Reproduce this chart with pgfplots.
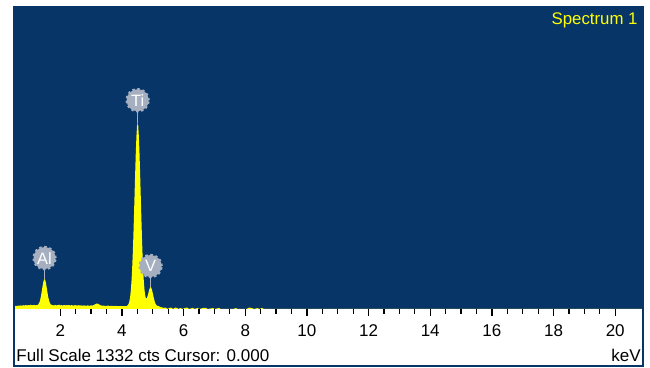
\documentclass[border=0pt]{standalone}
\usepackage{fontspec}
\setmainfont{Liberation Sans}
\usepackage{pgfplots}
\pgfplotsset{compat=1.18}

\definecolor{specblue}{RGB}{8,53,104}
\definecolor{specyellow}{RGB}{255,255,0}
\definecolor{labgrey}{RGB}{166,175,192}

% EDS spectrum: energy (keV) vs counts
\pgfplotstableread{
x y
0.50 12
0.52 13
0.56 14
0.60 13
0.64 15
0.68 14
0.72 16
0.76 14
0.80 17
0.84 15
0.88 18
0.92 15
0.96 17
1.00 16
1.04 19
1.08 16
1.12 17
1.16 18
1.20 16
1.23 17
1.25 17.3
1.27 18.6
1.29 21.1
1.31 25.2
1.33 31.7
1.35 41.1
1.37 53.7
1.39 69.1
1.41 86.4
1.43 103.6
1.45 118.3
1.47 128.4
1.49 132
1.51 128.4
1.53 118.3
1.55 103.6
1.57 86.4
1.59 69.1
1.61 53.7
1.63 41.1
1.65 31.7
1.67 25.2
1.69 21.1
1.71 18.6
1.73 17.3
1.76 17
1.80 15
1.84 18
1.88 16
1.92 17
1.96 19
2.00 16
2.04 17
2.08 15
2.12 18
2.16 16
2.20 17
2.24 16
2.28 18
2.32 15
2.36 17
2.40 16
2.44 15
2.48 17
2.52 16
2.56 15
2.60 17
2.64 15
2.68 16
2.72 14
2.76 16
2.80 15
2.84 14
2.88 16
2.92 15
2.96 14
3.00 16
3.04 15
3.08 17
3.12 20
3.16 23
3.20 24
3.24 22
3.28 18
3.32 16
3.36 14
3.40 15
3.44 14
3.48 13
3.52 14
3.56 15
3.60 13
3.64 14
3.68 13
3.72 14
3.76 12
3.80 14
3.84 13
3.88 12
3.92 13
3.96 12
4.00 13
4.04 12
4.08 13
4.12 12
4.15 13
4.17 14.5
4.19 16.8
4.21 21
4.23 28
4.25 39.6
4.27 57.4
4.29 84
4.31 122
4.33 172
4.35 237
4.37 316
4.39 406
4.41 503
4.43 600
4.45 689
4.47 760
4.49 806
4.51 822
4.53 806
4.55 760
4.57 689
4.59 600
4.61 503
4.63 406
4.65 316
4.67 237
4.69 173
4.71 124
4.73 88
4.75 64
4.77 51
4.79 46
4.81 49
4.83 56
4.85 66
4.87 77
4.89 87
4.91 94
4.93 97
4.95 94
4.97 87
4.99 76
5.01 64
5.03 51
5.05 40
5.07 30
5.09 23.5
5.11 19
5.13 15.7
5.15 14
5.19 12.5
5.23 10
5.27 8
5.30 7
5.36 5
5.42 6
5.48 0
5.54 5
5.60 6
5.66 0
5.72 6
5.78 5
5.84 0
5.90 5
5.96 0
6.05 5
6.12 6
6.18 0
6.30 5
6.36 0
6.45 4
6.52 0
6.65 5
6.72 5
6.78 0
6.95 4
7.02 0
7.15 5
7.20 0
7.60 0
7.70 4
7.75 0
8.05 0
8.12 6
8.20 5
8.28 0
8.40 4
8.46 0
8.55 5
8.60 0
20.9 0
}\spectrum

\tikzset{
  peaklabel/.style={circle, fill=labgrey, inner sep=0pt, minimum size=11pt,
    text=white, font=\fontsize{8.2}{8.2}\selectfont,
    preaction={draw=labgrey, line width=1.2pt, dash pattern=on 1.2pt off 1.3pt}},
  stem/.style={labgrey, line width=0.6pt}
}

\begin{document}
\begin{tikzpicture}
\useasboundingbox (0,0) rectangle (325pt,184pt);
\begin{axis}[
  at={(7pt,29.5pt)}, anchor=south west,
  scale only axis, width=314.5pt, height=151pt,
  xmin=0.5, xmax=20.9, ymin=0, ymax=1332,
  axis background/.style={fill=specblue},
  axis line style={draw=none},
  ytick=\empty,
  xtick={2,4,...,20},
  minor x tick num=3,
  xtick pos=left,
  tick align=outside,
  major tick length=3.5pt, minor tick length=2.5pt,
  tick style={black, line width=0.6pt},
  xticklabel style={font=\fontsize{8.5}{10}\selectfont, yshift=-1pt},
  /pgf/number format/assume math mode=true,
]
\addplot[fill=specyellow, draw=none] table[x=x, y=y] {\spectrum} \closedcycle;

% element markers
\draw[stem] (axis cs:1.49,132) -- ([yshift=6pt]axis cs:1.49,132);
\node[peaklabel] at ([yshift=10.5pt]axis cs:1.49,132) {Al};
\draw[stem] (axis cs:4.51,822) -- ([yshift=6pt]axis cs:4.51,822);
\node[peaklabel] at ([yshift=11.2pt]axis cs:4.51,822) {Ti};
\draw[stem] (axis cs:4.93,97) -- ([yshift=6pt]axis cs:4.93,97);
\node[peaklabel] at ([yshift=10.5pt]axis cs:4.93,97) {V};
\end{axis}

\draw[specblue, line width=0.8pt] (7pt,1pt) rectangle (321.5pt,180.5pt);
\node[anchor=east, inner sep=0pt, text=specyellow, font=\fontsize{8.4}{10}\selectfont] at (319pt,174pt) {Spectrum 1};
\node[anchor=base west, inner sep=0pt, font=\fontsize{8.5}{10}\selectfont] at (8pt,3pt) {Full Scale 1332 cts Cursor: 0.000};
\node[anchor=base east, inner sep=0pt, font=\fontsize{8.5}{10}\selectfont] at (320.5pt,3pt) {keV};
\end{tikzpicture}
\end{document}
